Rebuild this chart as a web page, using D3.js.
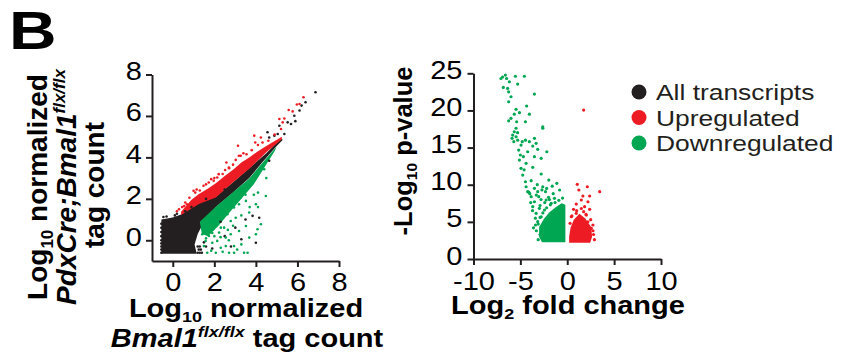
<!DOCTYPE html>
<html><head><meta charset="utf-8">
<script src="https://cdnjs.cloudflare.com/ajax/libs/d3/7.8.5/d3.min.js"></script>
<style>html,body{margin:0;padding:0;background:#fff;}svg{display:block;}</style>
</head><body>
<svg id="chart" width="844" height="360"></svg>
<script>
// ---------------- DATA ----------------
// Left panel (MA-style scatter): log10 normalized tag counts [x = Bmal1 flx/flx, y = PdxCre;Bmal1 flx/flx]
const maTicks = [0, 2, 4, 6, 8];
// dense cloud outlines
const maBlackCore = [[-0.55,-0.65],[-0.55,1.0],[0.0,1.1],[0.4,1.25],[1.26,1.8],[2.07,2.1],[2.9,2.8],[3.68,3.48],[4.5,4.2],[5.2,4.9],[5.3,4.85],[5.0,4.55],[4.3,3.75],[3.68,3.0],[2.9,2.3],[2.07,1.6],[1.5,0.9],[1.2,0.3],[1.05,-0.2],[1.15,-0.65]];
const maRedCore = [[0.4,1.38],[0.9,1.95],[1.26,2.23],[1.7,2.5],[2.07,2.75],[2.5,3.1],[2.9,3.4],[3.3,3.75],[3.68,4.0],[4.1,4.3],[4.5,4.55],[5.25,5.0],[5.25,4.88],[4.5,4.25],[3.68,3.45],[2.9,2.8],[2.07,2.06],[1.26,1.75],[0.4,1.22]];
const maGreenCore = [[1.3,0.9],[2.07,1.62],[2.9,2.32],[3.68,2.98],[4.3,3.72],[5.0,4.52],[4.9,4.3],[4.4,3.5],[3.9,2.7],[3.3,2.0],[2.7,1.3],[2.2,0.7],[1.7,0.2],[1.4,0.3]];
// individual points
const maBlackPts = [[6.87,7.14],[6.39,6.66],[6.10,6.26],[5.85,6.01],[5.53,5.69],[5.69,5.61],[5.13,5.53],[5.05,5.13],[4.89,5.05],[4.56,5.21],[4.64,4.96],[5.37,5.13],[4.64,3.84],[5.9,5.75],[6.2,6.5],
  [3.84,1.18],[4.16,1.09],[4.0,-0.12],[3.01,0.61],[2.5,0.2],[3.3,0.05],[2.3,0.9],[3.5,1.0],[1.9,-0.4],[2.8,-0.3],
  [-0.55,-0.6],[-0.55,-0.45],[-0.55,-0.3],[-0.55,-0.15],[-0.55,0.0],[-0.55,0.2],[-0.55,0.4],[-0.55,0.6],[-0.55,0.8],
  [1.2,-0.6],[1.3,-0.6],[1.4,-0.6],[1.25,-0.45],[1.35,-0.45],[1.2,-0.3],[1.3,-0.3],[1.6,-0.3],[1.5,-0.1],
  [-0.3,1.15],[0.1,1.2],[0.2,1.28],[-0.45,1.12],[0.6,1.4],[0.9,1.6],[1.6,2.0],[2.5,2.45]];
const maRedPts = [[6.29,6.9],[6.10,6.58],[5.97,6.55],[5.58,6.29],[5.77,6.22],[5.37,5.88],[5.13,5.85],[5.29,5.69],[5.21,5.37],[3.92,5.05],[4.24,4.96],[4.32,4.72],[3.97,4.72],[3.14,4.56],[3.27,4.08],[3.03,3.88],[2.58,3.75],[2.52,3.39],[2.71,3.48],[2.14,3.03],
  [0.60,1.82],[0.68,1.74],[1.0,2.39],[1.08,2.30],[1.48,2.63],[1.73,2.79],[1.97,2.87],[2.21,3.19],[2.70,3.51],[3.18,4.08],[0.3,1.5],[0.45,1.6],[1.3,2.4],[1.85,2.95],[2.4,3.2],[3.4,4.2],[3.8,4.35],[4.1,4.6],[4.6,4.8],[4.9,5.1],
  [0.8,2.05],[1.15,2.45],[1.6,2.7],[2.0,3.0],[2.9,3.65],[3.55,4.15],[0.2,1.4],[0.55,1.65]];
const maGreenPts = [[4.48,2.14],[4.0,1.74],[4.1,1.6],[3.68,1.34],[3.19,1.74],[3.35,2.39],[3.5,2.2],[4.0,0.29],[4.08,0.53],[4.24,0.77],[3.68,0.13],[3.52,0.69],[3.19,0.45],[2.79,0.29],[2.95,-0.28],[2.55,-0.28],[2.31,-0.36],[2.14,-0.03],[1.74,0.21],
  [1.66,-0.6],[2.07,-0.6],[2.71,-0.6],[2.95,-0.6],[3.43,-0.6],[3.6,-0.6],[1.5,-0.28],[1.82,0.53],[2.07,0.77],[2.31,1.02],[2.63,1.26],[2.47,0.61],[2.79,0.93],[3.03,1.09],[2.95,1.58],[3.27,2.06],[3.52,1.90],[3.68,2.63],[3.84,3.03],[4.0,3.19],[4.40,3.43],
  [2.23,0.37],[2.55,0.13],[1.9,-0.12],[2.31,0.61],[1.58,-0.03],[1.42,0.29],[1.9,0.35],[2.0,1.0],[2.6,1.7],[3.0,1.9],[2.4,-0.55],[1.85,-0.5],[3.1,-0.45],[3.3,-0.2],[2.7,0.0],[1.6,0.1],[1.95,0.55],[2.5,1.4],[3.1,2.1],[2.8,2.0],
  [2.3,0.15],[2.0,0.2],[2.65,0.5],[2.9,0.7],[3.3,1.2],[3.7,1.6],[4.1,2.3],[4.5,3.0],[3.9,2.2]];

// Right panel (volcano): log2 fold change vs -log10 p-value
const vxTicks = [-10, -5, 0, 5, 10];
const vyTicks = [0, 5, 10, 15, 20, 25];
const volGreenCore = [[-2.7,2.25],[-0.2,2.25],[-0.2,7.3],[-0.6,7.5],[-1.2,7.0],[-1.9,6.3],[-2.5,5.4],[-3.0,4.3],[-3.0,3.0]];
const volRedCore = [[0.2,2.2],[2.45,2.2],[2.65,3.0],[2.55,4.3],[1.9,5.5],[1.3,6.1],[0.7,5.3],[0.35,4.2],[0.2,3.0]];
const volGreenPts = [[-6.6,24.76],[-6.9,24.5],[-6.47,24.3],[-7.07,24.3],[-5.53,24.6],[-4.57,24.6],[-6.18,23.86],[-5.29,23.55],[-6.82,23.1],[-6.36,22.97],[-6.25,22.5],[-3.5,22.2],[-6.0,21.84],[-6.25,21.17],[-4.33,20.6],[-5.46,20.15],[-5.1,19.7],[-5.65,19.5],[-4.04,19.5],[-6.0,18.94],[-6.25,18.6],[-4.46,18.48],[-5.4,18.48],[-2.61,17.8],[-2.61,17.6],
  [-5.46,17.6],[-5.65,17.13],[-5.82,16.69],[-5.89,16.24],[-5.46,16.46],[-5.29,16.0],[-4.46,16.0],[-4.04,15.79],[-3.5,16.24],[-3.32,15.57],[-3.68,15.2],[-4.93,15.34],[-5.18,14.67],[-4.22,14.44],[-3.15,14.76],[-2.18,14.44],[-4.68,13.77],[-3.5,13.77],[-2.78,13.55],[-5.1,13.32],[-4.39,12.88],[-4.93,12.21],[-3.68,12.34],[-4.75,11.3],[-2.78,11.44],
  [-4.46,10.4],[-3.85,10.54],[-1.97,10.63],[-1.11,10.19],[-4.39,9.73],[-3.5,9.51],[-2.61,9.73],[-4.22,9.06],[-3.15,9.06],[-2.32,9.06],[-0.82,9.29],[-3.85,8.39],[-3.04,8.39],[-2.25,7.94],[-3.5,7.71],[-1.71,7.5],[-1.36,8.17],[-3.68,7.04],[-2.97,6.82],[-2.43,6.6],[-3.32,6.15],[-2.78,5.69],[-3.15,5.02],[-3.39,4.58],
  [-3.3,3.8],[-3.1,4.7],[-2.9,5.6],[-2.6,6.2],[-2.2,6.9],[-1.8,7.3],[-1.3,7.6],[-0.9,7.9],[-0.5,8.2],[-3.6,4.2],[-2.0,8.3],[-1.5,8.8],[-2.8,8.0],[-4.0,8.8],[-4.6,12.0],[-5.0,14.0],[-4.8,15.8],[-5.7,15.8],[-5.3,17.0],
  [-3.4,5.5],[-3.7,6.5],[-3.9,7.6],[-4.1,9.0],[-2.9,7.2],[-2.4,7.6],[-1.9,8.0],[-3.3,8.6],[-2.7,9.3],[-3.2,10.0],[-2.2,9.5],[-1.6,9.8],[-2.9,3.3],[-3.1,2.6]];
const volRedPts = [[1.75,20.05],[3.46,9.06],[1.07,10.05],[2.14,9.73],[1.24,9.29],[1.67,8.48],[2.39,8.48],[1.5,7.94],[2.21,7.71],[0.96,7.4],[1.85,7.04],[2.39,6.69],[0.67,6.69],[2.74,4.58],[2.57,4.13],[2.39,3.67],[2.03,5.92],[1.32,5.69],[0.96,6.15],[1.75,6.37],[0.43,5.69],
  [2.8,3.3],[2.9,2.6],[2.75,3.8],[2.2,5.0],[0.5,5.8],[1.0,6.5],[2.5,5.3],[1.5,6.8],[2.0,6.0],[0.3,4.8]];

const legendItems = ["All transcripts", "Upregulated", "Downregulated"];
const legendColors = ["#231f20", "#ed1c24", "#00a651"];

// ---------------- DRAW ----------------
const FONT = "'Liberation Sans', Arial, Helvetica, sans-serif";
const INK = "#231f20", RED = "#ed1c24", GREEN = "#00a651";
const SX = 1.16;
const svg = d3.select("#chart").style("font-family", FONT);

// panel label
svg.append("text").attr("transform", "translate(9,49) scale(1.22,1)")
  .attr("font-size", 54).attr("font-weight", "bold").attr("fill", "#000").text("B");

function styleAxis(g) {
  g.select(".domain").attr("stroke", INK).attr("stroke-width", 2);
  g.selectAll(".tick line").attr("stroke", INK).attr("stroke-width", 2);
  g.selectAll(".tick text").attr("fill", "#000").attr("font-size", 25).attr("font-family", FONT);
}
const fmt = d => String(d);

// ---- Left panel ----
const lx = d3.scaleLinear().domain([-1, 8]).range([152, 339]);
const ly = d3.scaleLinear().domain([-1, 8]).range([261, 74.5]);
const line = d3.line().x(d => lx(d[0])).y(d => ly(d[1])).curve(d3.curveLinearClosed);
const L = svg.append("g");
L.append("path").datum(maBlackCore).attr("d", line).attr("fill", INK);
L.append("path").datum(maRedCore).attr("d", line).attr("fill", RED);
L.append("path").datum(maGreenCore).attr("d", line).attr("fill", GREEN);
[[maBlackPts, INK], [maRedPts, RED], [maGreenPts, GREEN]].forEach(([pts, c]) => {
  L.append("g").selectAll("circle").data(pts).join("circle")
    .attr("cx", d => lx(d[0])).attr("cy", d => ly(d[1])).attr("r", 1.3).attr("fill", c);
});
const lxAxis = svg.append("g").attr("transform", `translate(0,${ly(-1)})`)
  .call(d3.axisBottom(lx).tickValues(maTicks).tickFormat(fmt).tickSize(6).tickSizeOuter(0).tickPadding(6));
styleAxis(lxAxis);
lxAxis.selectAll(".tick text").attr("transform", `scale(${SX},1)`).attr("x", 0);
const lyAxis = svg.append("g").attr("transform", `translate(${lx(-1)},0)`)
  .call(d3.axisLeft(ly).tickValues(maTicks).tickFormat(fmt).tickSize(6).tickSizeOuter(0));
styleAxis(lyAxis);
lyAxis.selectAll(".tick text").attr("x", 0).attr("dy", "0.2em").attr("transform", `translate(-10,0) scale(${SX},1)`);

// left y title (3 rotated lines)
function rot(x, y, size) {
  return svg.append("text").attr("transform", `translate(${x},${y}) rotate(-90)`)
    .attr("text-anchor", "middle").attr("font-size", size).attr("font-weight", "bold").attr("fill", "#000");
}
let t = rot(47, 187, 28);
t.append("tspan").text("Log");
t.append("tspan").attr("font-size", 17).attr("dy", 6).text("10");
t.append("tspan").attr("dy", -6).text(" normalized");
t = rot(76, 187, 28).attr("font-style", "italic");
t.append("tspan").text("PdxCre;Bmal1");
t.append("tspan").attr("font-size", 17).attr("dy", -11).text("flx/flx");
t = rot(104, 185, 28);
t.append("tspan").text("tag count");

// left x title
function hor(x, y, size) {
  return svg.append("text").attr("transform", `translate(${x},${y}) scale(${SX},1)`)
    .attr("text-anchor", "middle").attr("font-size", size).attr("font-weight", "bold").attr("fill", "#000");
}
t = hor(246, 317, 25);
t.append("tspan").text("Log");
t.append("tspan").attr("font-size", 15.5).attr("dy", 5).text("10");
t.append("tspan").attr("dy", -5).text(" normalized");
t = hor(247, 347, 25);
t.append("tspan").attr("font-style", "italic").text("Bmal1");
t.append("tspan").attr("font-style", "italic").attr("font-size", 15.5).attr("dy", -10).text("flx/flx");
t.append("tspan").attr("dy", 10).text(" tag count");

// ---- Right panel ----
const vx = d3.scaleLinear().domain([-10, 10]).range([473.5, 661]);
const vy = d3.scaleLinear().domain([0, 25]).range([259, 73.3]);
const vline = d3.line().x(d => vx(d[0])).y(d => vy(d[1])).curve(d3.curveLinearClosed);
const R = svg.append("g");
R.append("path").datum(volGreenCore).attr("d", vline).attr("fill", GREEN);
R.append("path").datum(volRedCore).attr("d", vline).attr("fill", RED);
[[volGreenPts, GREEN], [volRedPts, RED]].forEach(([pts, c]) => {
  R.append("g").selectAll("circle").data(pts).join("circle")
    .attr("cx", d => vx(d[0])).attr("cy", d => vy(d[1])).attr("r", 1.6).attr("fill", c);
});
const rxAxis = svg.append("g").attr("transform", `translate(0,${vy(0)})`)
  .call(d3.axisBottom(vx).tickValues(vxTicks).tickFormat(fmt).tickSize(6).tickSizeOuter(0).tickPadding(7));
styleAxis(rxAxis);
rxAxis.selectAll(".tick text").attr("transform", `scale(${SX},1)`).attr("x", 0);
const ryAxis = svg.append("g").attr("transform", `translate(${vx(-10)},0)`)
  .call(d3.axisLeft(vy).tickValues(vyTicks).tickFormat(fmt).tickSize(6).tickSizeOuter(0));
styleAxis(ryAxis);
ryAxis.selectAll(".tick text").attr("x", 0).attr("dy", "0.2em").attr("transform", `translate(-11,0) scale(${SX},1)`);

t = rot(412, 151, 25.5);
t.append("tspan").text("-Log");
t.append("tspan").attr("font-size", 15.5).attr("dy", 5).text("10");
t.append("tspan").attr("dy", -5).text(" p-value");

t = hor(568, 314, 25);
t.append("tspan").text("Log");
t.append("tspan").attr("font-size", 15.5).attr("dy", 5).text("2");
t.append("tspan").attr("dy", -5).text(" fold change");

// legend
const leg = svg.append("g");
const legY = d3.scalePoint().domain(legendItems).range([92, 143]);
legendItems.forEach((name, i) => {
  leg.append("circle").attr("cx", 639).attr("cy", legY(name)).attr("r", 7.5).attr("fill", legendColors[i]);
  leg.append("text").attr("transform", `translate(656,${legY(name) + 8}) scale(1.2,1)`)
    .attr("font-size", 22).attr("fill", INK).text(name);
});
</script>
</body></html>
